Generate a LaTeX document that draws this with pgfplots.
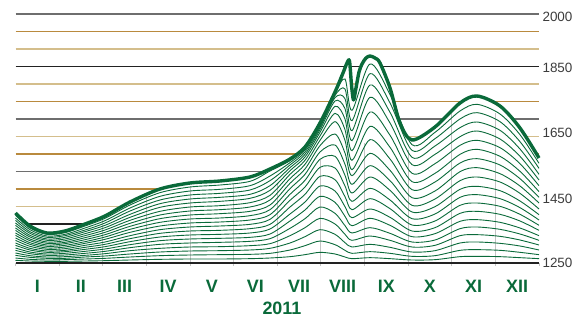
\documentclass[border=0pt]{standalone}
\usepackage{fontspec}
\setmainfont{Liberation Sans}
\usepackage{pgfplots}
\usepackage{pgfplotstable}
\pgfplotsset{compat=1.18}
\definecolor{grn}{HTML}{0A6A3A}
\definecolor{gold}{HTML}{B98A3E}
\definecolor{tan}{HTML}{D4BE8C}
\definecolor{gr}{HTML}{6E6E6E}
\definecolor{blk}{HTML}{222222}
\definecolor{vg}{HTML}{C4C4C4}
\definecolor{lbl}{HTML}{3C3C3C}

\pgfplotstableread{
x t
0.000 1400
0.332 1361
0.722 1340
1.135 1346
1.593 1367
2.052 1391
2.625 1433
3.312 1472
4.000 1490
4.688 1496
5.375 1508
5.834 1532
6.292 1562
6.636 1598
6.980 1670
7.324 1763
7.507 1820
7.599 1850
7.656 1856
7.702 1784
7.748 1739
7.805 1775
7.874 1823
7.943 1847
8.034 1865
8.126 1871
8.241 1865
8.355 1850
8.585 1775
8.814 1670
9.089 1619
9.616 1658
10.189 1730
10.579 1751
11.106 1721
11.564 1655
12.000 1565
}\topline

\pgfplotstableread{
x c1 c2 c3 c4 c5 c6 c7 c8 c9 c10 c11 c12 c13 c14 c15 c16 c17 c18 c19
0.000 1258 1265 1273 1280 1288 1295 1303 1310 1318 1325 1333 1340 1348 1355 1363 1370 1378 1385 1393
0.332 1256 1261 1267 1272 1278 1283 1289 1294 1300 1306 1311 1317 1322 1328 1333 1339 1344 1350 1355
0.722 1255 1259 1264 1268 1273 1277 1282 1286 1291 1295 1300 1304 1309 1313 1318 1322 1327 1331 1336
1.135 1255 1260 1264 1269 1274 1279 1284 1288 1293 1298 1303 1308 1312 1317 1322 1327 1332 1336 1341
1.593 1256 1262 1268 1273 1279 1285 1291 1297 1303 1309 1314 1320 1326 1332 1338 1344 1349 1355 1361
2.052 1257 1264 1271 1278 1285 1292 1299 1306 1313 1321 1328 1335 1342 1349 1356 1363 1370 1377 1384
2.625 1259 1268 1277 1287 1296 1305 1314 1323 1332 1342 1351 1360 1369 1378 1387 1396 1406 1415 1424
3.312 1261 1272 1283 1294 1306 1317 1328 1339 1350 1361 1372 1383 1394 1405 1417 1428 1439 1450 1461
4.000 1262 1274 1286 1298 1310 1322 1334 1346 1358 1370 1382 1394 1406 1418 1430 1442 1454 1466 1478
4.688 1262 1275 1287 1299 1312 1324 1336 1348 1361 1373 1385 1398 1410 1422 1435 1447 1459 1471 1484
5.375 1263 1276 1289 1302 1315 1327 1340 1353 1366 1379 1392 1405 1418 1431 1444 1456 1469 1482 1495
5.834 1265 1279 1294 1308 1323 1337 1352 1366 1381 1395 1410 1424 1439 1453 1468 1482 1497 1511 1526
6.292 1269 1289 1310 1332 1354 1376 1397 1418 1438 1456 1473 1489 1503 1516 1527 1536 1544 1551 1557
6.636 1275 1302 1329 1356 1383 1409 1433 1456 1478 1498 1516 1532 1546 1558 1568 1576 1583 1589 1594
6.980 1282 1316 1350 1384 1418 1450 1481 1510 1537 1561 1583 1602 1618 1631 1642 1650 1656 1661 1666
7.324 1277 1305 1336 1367 1399 1432 1466 1500 1535 1570 1604 1637 1674 1699 1720 1736 1746 1753 1759
7.553 1268 1288 1311 1336 1362 1390 1419 1449 1481 1513 1546 1580 1618 1650 1682 1713 1743 1772 1802
7.713 1263 1279 1298 1318 1340 1362 1386 1410 1435 1460 1486 1512 1530 1558 1587 1617 1647 1677 1708
8.126 1266 1284 1306 1331 1356 1384 1412 1443 1474 1508 1542 1579 1620 1660 1703 1747 1784 1818 1847
8.585 1263 1279 1297 1318 1339 1363 1387 1413 1439 1468 1497 1528 1562 1597 1633 1670 1702 1730 1755
9.089 1259 1270 1283 1298 1313 1329 1346 1364 1383 1403 1423 1446 1470 1494 1519 1545 1567 1588 1605
9.616 1260 1272 1287 1303 1319 1338 1356 1376 1397 1419 1442 1466 1493 1519 1548 1576 1601 1623 1642
10.189 1269 1288 1310 1332 1353 1375 1399 1423 1447 1471 1497 1524 1550 1576 1603 1629 1656 1682 1706
10.579 1270 1290 1313 1335 1358 1380 1405 1430 1455 1480 1508 1536 1563 1591 1618 1646 1673 1701 1726
11.106 1269 1288 1309 1330 1351 1372 1396 1420 1443 1467 1493 1518 1544 1570 1596 1622 1648 1674 1697
11.564 1266 1282 1301 1319 1337 1355 1376 1396 1416 1436 1459 1481 1503 1525 1548 1570 1592 1614 1635
12.000 1263 1275 1289 1304 1318 1332 1348 1363 1379 1395 1412 1430 1447 1464 1482 1499 1516 1534 1549
}\thin

\begin{document}
\begin{tikzpicture}
\path[use as bounding box] (0,0) rectangle (580bp,318bp);
\begin{axis}[
  at={(15.5bp,55bp)}, anchor=south west,
  scale only axis, width=523.5bp, height=250bp,
  xmin=0, xmax=12, ymin=1250, ymax=2000,
  clip=false,
  axis line style={draw=none},
  major tick length=0pt,
  xtick={0.5,1.5,...,11.5},
  xticklabels={I,II,III,IV,V,VI,VII,VIII,IX,X,XI,XII},
  xticklabel style={anchor=base, yshift=-29bp, font=\fontsize{18}{18}\selectfont\bfseries, text=grn},
  ytick={1250,1443.5,1640,1835,1987},
  yticklabels={1250,1450,1650,1850,2000},
  yticklabel pos=right,
  yticklabel style={anchor=west, xshift=0bp, font=\fontsize{13.5}{14}\selectfont, text=lbl},
  xlabel={2011},
  xlabel style={at={(axis description cs:0.509,-0.206)}, anchor=base, font=\fontsize{18}{18}\selectfont\bfseries, text=grn},
]
% horizontal grid lines
\addplot[gr, line width=1.6bp, forget plot] coordinates {(0,1997) (12,1997)};
\addplot[gold, line width=1.3bp, forget plot] coordinates {(0,1944.5) (12,1944.5)};
\addplot[tan, line width=1.6bp, forget plot] coordinates {(0,1892) (12,1892)};
\addplot[blk, line width=1.3bp, forget plot] coordinates {(0,1839.5) (12,1839.5)};
\addplot[tan, line width=1.6bp, forget plot] coordinates {(0,1787) (12,1787)};
\addplot[gold, line width=1.3bp, forget plot] coordinates {(0,1734.5) (12,1734.5)};
\addplot[gr, line width=1.4bp, forget plot] coordinates {(0,1682) (12,1682)};
\addplot[tan, line width=1.6bp, forget plot] coordinates {(0,1629.5) (12,1629.5)};
\addplot[gold, line width=1.3bp, forget plot] coordinates {(0,1577) (12,1577)};
\addplot[gr, line width=1.4bp, forget plot] coordinates {(0,1524.5) (12,1524.5)};
\addplot[gold, line width=1.3bp, forget plot] coordinates {(0,1472) (12,1472)};
\addplot[tan, line width=1.6bp, forget plot] coordinates {(0,1419.5) (12,1419.5)};
\addplot[blk, line width=1.3bp, forget plot] coordinates {(0,1367) (12,1367)};
\addplot[gold, line width=1.3bp, forget plot] coordinates {(0,1314.5) (12,1314.5)};
% white area under the top curve hides the grid there
\addplot[draw=none, fill=white, smooth, forget plot] table[x=x, y=t] {\topline} \closedcycle;
% vertical month separators
\addplot[vg, line width=1bp, forget plot, unbounded coords=jump] coordinates {
(0,1241) (0,1250) (0,nan)
(1,1241) (1,1340) (1,nan)
(2,1241) (2,1380) (2,nan)
(3,1241) (3,1450) (3,nan)
(4,1241) (4,1480) (4,nan)
(5,1241) (5,1490) (5,nan)
(6,1241) (6,1490) (6,nan)
(7,1241) (7,1560) (7,nan)
(8,1241) (8,1610) (8,nan)
(9,1241) (9,1590) (9,nan)
(10,1241) (10,1700) (10,nan)
(11,1241) (11,1700) (11,nan)
(12,1241) (12,1250)
};
% baseline
\addplot[blk, line width=1.6bp, forget plot] coordinates {(0,1250) (12,1250)};
% thin curves
\pgfplotsinvokeforeach{1,...,19}{
  \addplot[grn, line width=0.9bp, smooth, forget plot] table[x=x, y=c#1] {\thin};
}
% top curve
\addplot[grn, line width=3.4bp, smooth, line join=round, forget plot] table[x=x, y=t] {\topline};
\end{axis}
\end{tikzpicture}
\end{document}
